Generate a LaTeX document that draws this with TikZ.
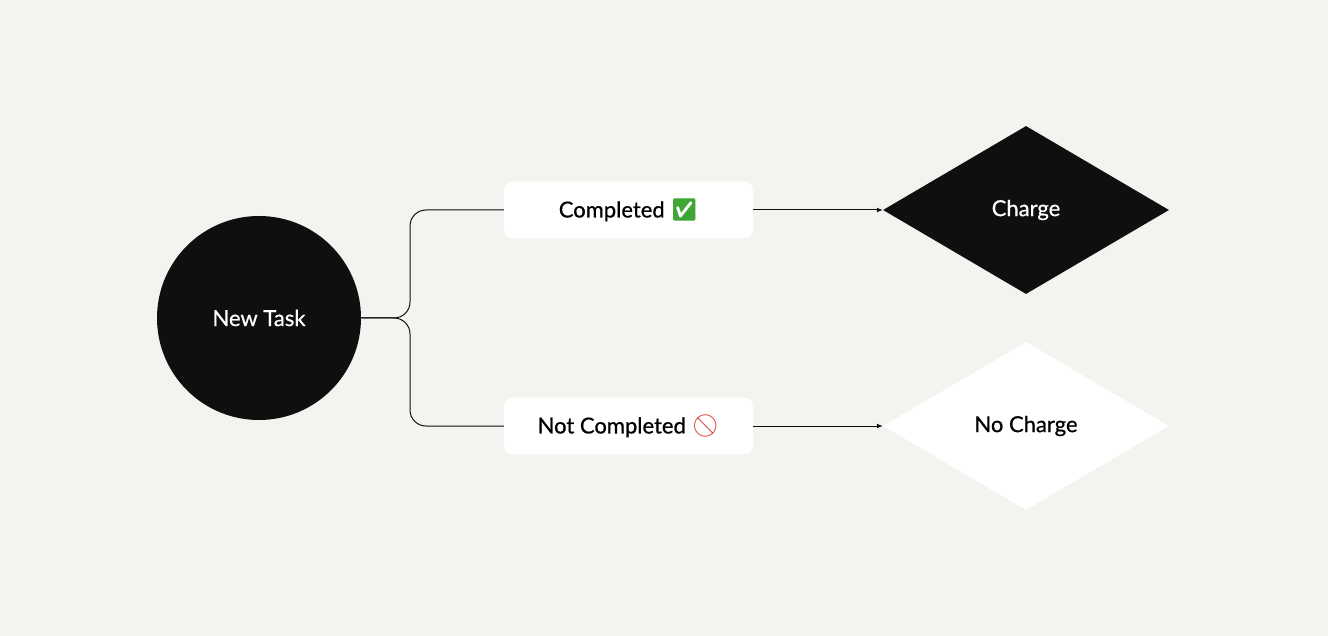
\documentclass[tikz,border=0pt]{standalone}
\usepackage{fontspec}
\setmainfont{Lato}
\newfontfamily\lblfont[FakeBold=0.7]{Lato}
\newfontfamily\emo{Noto Emoji}
\usetikzlibrary{shapes.geometric,arrows.meta}
\definecolor{bg}{HTML}{F4F3EF}
\definecolor{ink}{HTML}{0F0F0F}
\definecolor{okg}{HTML}{3FA535}
\definecolor{nor}{HTML}{D9443A}
\begin{document}
\begin{tikzpicture}[x=1pt,y=-1pt,
  lbl/.style={font=\fontsize{22}{24}\lblfont},
  pill/.style={fill=white,rounded corners=9pt,minimum width=249pt,minimum height=57pt,lbl},
  dia/.style={diamond,minimum width=286pt,minimum height=168pt,inner sep=0pt,lbl},
  wire/.style={draw=ink,line width=1pt},
  arr/.style={wire,-{Latex[length=6pt,width=5pt]}}]
\fill[bg] (0,0) rectangle (1328,636);
\useasboundingbox (0,0) rectangle (1328,636);
\node[circle,fill=ink,minimum size=204pt,text=white,lbl] (task) at (259,318) {New Task};
\node[pill] (c) at (628.5,210) {Completed {\emo\color{okg}✅}};
\node[pill] (n) at (628.5,426) {Not Completed {\emo\color{nor}🚫}};
\node[dia,fill=ink,text=white] (ch) at (1026,210) {Charge};
\node[dia,fill=white] (nc) at (1026,426) {No Charge};
\coordinate (j) at (410,318);
\draw[wire,rounded corners=16pt] (task.east) -- (j) |- (c.west);
\draw[wire,rounded corners=16pt] (task.east) -- (j) |- (n.west);
\draw[arr] (c.east) -- (ch.west);
\draw[arr] (n.east) -- (nc.west);
\end{tikzpicture}
\end{document}
